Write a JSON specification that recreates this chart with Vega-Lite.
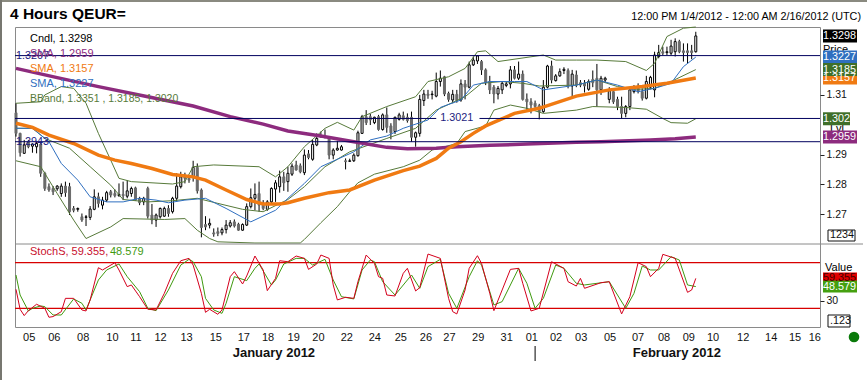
{"$schema":"https://vega.github.io/schema/vega-lite/v6.json","width":805,"height":300,"autosize":{"type":"none"},"padding":{"left":15,"top":27,"right":47,"bottom":55},"background":"#ffffff",
"config":{"font":"Liberation Sans","view":{"stroke":"#8a8a8a"},"text":{"font":"Liberation Sans"}},
"datasets":{
"days":[{"i":3.2,"d":"05"},{"i":9.3,"d":"06"},{"i":16.3,"d":"08"},{"i":23.4,"d":"10"},{"i":29.1,"d":"11"},{"i":35.1,"d":"12"},{"i":41.4,"d":"13"},{"i":48.5,"d":"15"},{"i":55.3,"d":"17"},{"i":61.2,"d":"18"},{"i":67.4,"d":"19"},{"i":73.4,"d":"20"},{"i":80.3,"d":"22"},{"i":87.1,"d":"24"},{"i":93.4,"d":"25"},{"i":99.5,"d":"26"},{"i":105.2,"d":"27"},{"i":112.2,"d":"29"},{"i":119.1,"d":"31"},{"i":125.2,"d":"01"},{"i":131.1,"d":"02"},{"i":137.2,"d":"03"},{"i":144.2,"d":"05"},{"i":151,"d":"07"},{"i":157.3,"d":"08"},{"i":163.3,"d":"09"},{"i":169.2,"d":"10"},{"i":176.5,"d":"12"},{"i":183.3,"d":"14"},{"i":189.1,"d":"15"},{"i":193.9,"d":"16"}],
"candles":[
{"i":0,"o":1.3040,"h":1.3072,"l":1.2960,"c":1.2971},{"i":1,"o":1.2971,"h":1.2973,"l":1.2893,"c":1.2906},{"i":2,"o":1.2904,"h":1.2949,"l":1.2902,"c":1.2932},{"i":3,"o":1.2943,"h":1.2949,"l":1.2921,"c":1.2926},{"i":4,"o":1.2928,"h":1.2937,"l":1.2906,"c":1.2935},{"i":5,"o":1.2926,"h":1.2943,"l":1.2904,"c":1.2937},{"i":6,"o":1.2935,"h":1.2943,"l":1.2825,"c":1.2837},{"i":7,"o":1.2837,"h":1.2842,"l":1.2778,"c":1.2786},{"i":8,"o":1.2792,"h":1.2803,"l":1.2775,"c":1.2781},{"i":9,"o":1.2786,"h":1.2794,"l":1.2764,"c":1.2775},
{"i":10,"o":1.2785,"h":1.2797,"l":1.2778,"c":1.2794},{"i":11,"o":1.2769,"h":1.2803,"l":1.2758,"c":1.2794},{"i":12,"o":1.2794,"h":1.2809,"l":1.2758,"c":1.2772},{"i":13,"o":1.2792,"h":1.2805,"l":1.2697,"c":1.2708},{"i":14,"o":1.2719,"h":1.2727,"l":1.2706,"c":1.2713},{"i":15,"o":1.2716,"h":1.2722,"l":1.2708,"c":1.2719},{"i":16,"o":1.2691,"h":1.2702,"l":1.2674,"c":1.2680},{"i":17,"o":1.2689,"h":1.2697,"l":1.2660,"c":1.2691},{"i":18,"o":1.2689,"h":1.2727,"l":1.2680,"c":1.2717},{"i":19,"o":1.2716,"h":1.2783,"l":1.2713,"c":1.2758},
{"i":20,"o":1.2758,"h":1.2772,"l":1.2722,"c":1.2736},{"i":21,"o":1.2730,"h":1.2758,"l":1.2716,"c":1.2747},{"i":22,"o":1.2747,"h":1.2778,"l":1.2741,"c":1.2772},{"i":23,"o":1.2775,"h":1.2781,"l":1.2756,"c":1.2764},{"i":24,"o":1.2769,"h":1.2783,"l":1.2756,"c":1.2762},{"i":25,"o":1.2762,"h":1.2803,"l":1.2758,"c":1.2766},{"i":26,"o":1.2766,"h":1.2809,"l":1.2747,"c":1.2762},{"i":27,"o":1.2760,"h":1.2814,"l":1.2753,"c":1.2778},{"i":28,"o":1.2769,"h":1.2792,"l":1.2758,"c":1.2786},{"i":29,"o":1.2788,"h":1.2792,"l":1.2745,"c":1.2747},
{"i":30,"o":1.2753,"h":1.2758,"l":1.2730,"c":1.2738},{"i":31,"o":1.2741,"h":1.2758,"l":1.2730,"c":1.2753},{"i":32,"o":1.2786,"h":1.2792,"l":1.2685,"c":1.2693},{"i":33,"o":1.2697,"h":1.2734,"l":1.2666,"c":1.2680},{"i":34,"o":1.2680,"h":1.2702,"l":1.2657,"c":1.2697},{"i":35,"o":1.2691,"h":1.2722,"l":1.2685,"c":1.2719},{"i":36,"o":1.2693,"h":1.2725,"l":1.2691,"c":1.2719},{"i":37,"o":1.2719,"h":1.2730,"l":1.2691,"c":1.2702},{"i":38,"o":1.2708,"h":1.2758,"l":1.2702,"c":1.2753},{"i":39,"o":1.2753,"h":1.2837,"l":1.2741,"c":1.2794},
{"i":40,"o":1.2792,"h":1.2842,"l":1.2786,"c":1.2825},{"i":41,"o":1.2828,"h":1.2839,"l":1.2803,"c":1.2820},{"i":42,"o":1.2820,"h":1.2831,"l":1.2805,"c":1.2814},{"i":43,"o":1.2825,"h":1.2879,"l":1.2809,"c":1.2857},{"i":44,"o":1.2857,"h":1.2870,"l":1.2769,"c":1.2778},{"i":45,"o":1.2781,"h":1.2786,"l":1.2622,"c":1.2655},{"i":46,"o":1.2665,"h":1.2693,"l":1.2646,"c":1.2657},{"i":47,"o":1.2663,"h":1.2685,"l":1.2652,"c":1.2669},{"i":48,"o":1.2637,"h":1.2652,"l":1.2624,"c":1.2633},{"i":49,"o":1.2641,"h":1.2655,"l":1.2626,"c":1.2635},
{"i":50,"o":1.2637,"h":1.2655,"l":1.2629,"c":1.2648},{"i":51,"o":1.2648,"h":1.2680,"l":1.2635,"c":1.2663},{"i":52,"o":1.2660,"h":1.2680,"l":1.2655,"c":1.2671},{"i":53,"o":1.2674,"h":1.2682,"l":1.2655,"c":1.2660},{"i":54,"o":1.2666,"h":1.2671,"l":1.2644,"c":1.2646},{"i":55,"o":1.2646,"h":1.2669,"l":1.2644,"c":1.2665},{"i":56,"o":1.2663,"h":1.2736,"l":1.2660,"c":1.2725},{"i":57,"o":1.2725,"h":1.2786,"l":1.2719,"c":1.2755},{"i":58,"o":1.2753,"h":1.2803,"l":1.2713,"c":1.2766},{"i":59,"o":1.2769,"h":1.2809,"l":1.2708,"c":1.2730},
{"i":60,"o":1.2734,"h":1.2747,"l":1.2713,"c":1.2719},{"i":61,"o":1.2716,"h":1.2747,"l":1.2711,"c":1.2741},{"i":62,"o":1.2741,"h":1.2790,"l":1.2736,"c":1.2786},{"i":63,"o":1.2784,"h":1.2814,"l":1.2741,"c":1.2805},{"i":64,"o":1.2792,"h":1.2846,"l":1.2772,"c":1.2825},{"i":65,"o":1.2825,"h":1.2842,"l":1.2778,"c":1.2805},{"i":66,"o":1.2809,"h":1.2859,"l":1.2775,"c":1.2837},{"i":67,"o":1.2834,"h":1.2870,"l":1.2828,"c":1.2861},{"i":68,"o":1.2865,"h":1.2879,"l":1.2846,"c":1.2848},{"i":69,"o":1.2862,"h":1.2870,"l":1.2837,"c":1.2842},
{"i":70,"o":1.2839,"h":1.2917,"l":1.2831,"c":1.2898},{"i":71,"o":1.2902,"h":1.2915,"l":1.2884,"c":1.2890},{"i":72,"o":1.2884,"h":1.2949,"l":1.2879,"c":1.2934},{"i":73,"o":1.2932,"h":1.2971,"l":1.2928,"c":1.2954},{"i":74,"o":1.2962,"h":1.2977,"l":1.2958,"c":1.2958},{"i":75,"o":1.2962,"h":1.2984,"l":1.2954,"c":1.2958},{"i":76,"o":1.2954,"h":1.2962,"l":1.2884,"c":1.2898},{"i":77,"o":1.2898,"h":1.2921,"l":1.2884,"c":1.2915},{"i":78,"o":1.2915,"h":1.2946,"l":1.2913,"c":1.2921},{"i":79,"o":1.2915,"h":1.2932,"l":1.2913,"c":1.2926},
{"i":80,"o":1.2879,"h":1.2887,"l":1.2850,"c":1.2876},{"i":81,"o":1.2877,"h":1.2886,"l":1.2875,"c":1.2879},{"i":82,"o":1.2879,"h":1.2904,"l":1.2875,"c":1.2898},{"i":83,"o":1.2896,"h":1.2980,"l":1.2893,"c":1.2973},{"i":84,"o":1.2971,"h":1.3033,"l":1.2969,"c":1.3027},{"i":85,"o":1.3027,"h":1.3049,"l":1.2999,"c":1.3007},{"i":86,"o":1.3027,"h":1.3036,"l":1.2999,"c":1.3016},{"i":87,"o":1.3007,"h":1.3027,"l":1.3002,"c":1.3025},{"i":88,"o":1.3027,"h":1.3033,"l":1.2980,"c":1.2984},{"i":89,"o":1.2984,"h":1.3038,"l":1.2980,"c":1.3033},
{"i":90,"o":1.3033,"h":1.3058,"l":1.2973,"c":1.2991},{"i":91,"o":1.2996,"h":1.3005,"l":1.2951,"c":1.2973},{"i":92,"o":1.2977,"h":1.3027,"l":1.2969,"c":1.3025},{"i":93,"o":1.3018,"h":1.3040,"l":1.3014,"c":1.3033},{"i":94,"o":1.3030,"h":1.3044,"l":1.3014,"c":1.3018},{"i":95,"o":1.3025,"h":1.3038,"l":1.3007,"c":1.3014},{"i":96,"o":1.3025,"h":1.3044,"l":1.2943,"c":1.2958},{"i":97,"o":1.2958,"h":1.2977,"l":1.2926,"c":1.2973},{"i":98,"o":1.2971,"h":1.3100,"l":1.2960,"c":1.3085},{"i":99,"o":1.3081,"h":1.3117,"l":1.3063,"c":1.3103},
{"i":100,"o":1.3103,"h":1.3117,"l":1.3087,"c":1.3098},{"i":101,"o":1.3101,"h":1.3114,"l":1.3085,"c":1.3103},{"i":102,"o":1.3096,"h":1.3175,"l":1.3092,"c":1.3145},{"i":103,"o":1.3145,"h":1.3182,"l":1.3128,"c":1.3156},{"i":104,"o":1.3161,"h":1.3164,"l":1.3096,"c":1.3103},{"i":105,"o":1.3105,"h":1.3111,"l":1.3077,"c":1.3085},{"i":106,"o":1.3083,"h":1.3117,"l":1.3072,"c":1.3102},{"i":107,"o":1.3102,"h":1.3117,"l":1.3074,"c":1.3081},{"i":108,"o":1.3083,"h":1.3152,"l":1.3077,"c":1.3137},{"i":109,"o":1.3137,"h":1.3150,"l":1.3085,"c":1.3126},
{"i":110,"o":1.3126,"h":1.3212,"l":1.3122,"c":1.3201},{"i":111,"o":1.3201,"h":1.3229,"l":1.3197,"c":1.3217},{"i":112,"o":1.3214,"h":1.3234,"l":1.3204,"c":1.3231},{"i":113,"o":1.3212,"h":1.3217,"l":1.3167,"c":1.3184},{"i":114,"o":1.3184,"h":1.3189,"l":1.3133,"c":1.3142},{"i":115,"o":1.3145,"h":1.3164,"l":1.3103,"c":1.3117},{"i":116,"o":1.3126,"h":1.3133,"l":1.3072,"c":1.3103},{"i":117,"o":1.3103,"h":1.3130,"l":1.3085,"c":1.3122},{"i":118,"o":1.3117,"h":1.3145,"l":1.3103,"c":1.3139},{"i":119,"o":1.3132,"h":1.3145,"l":1.3126,"c":1.3137},
{"i":120,"o":1.3137,"h":1.3197,"l":1.3122,"c":1.3184},{"i":121,"o":1.3184,"h":1.3197,"l":1.3152,"c":1.3156},{"i":122,"o":1.3156,"h":1.3212,"l":1.3150,"c":1.3170},{"i":123,"o":1.3170,"h":1.3182,"l":1.3081,"c":1.3085},{"i":124,"o":1.3086,"h":1.3105,"l":1.3049,"c":1.3077},{"i":125,"o":1.3077,"h":1.3089,"l":1.3038,"c":1.3066},{"i":126,"o":1.3072,"h":1.3081,"l":1.3052,"c":1.3061},{"i":127,"o":1.3064,"h":1.3070,"l":1.3018,"c":1.3044},{"i":128,"o":1.3044,"h":1.3150,"l":1.3040,"c":1.3126},{"i":129,"o":1.3126,"h":1.3201,"l":1.3122,"c":1.3197},
{"i":130,"o":1.3197,"h":1.3215,"l":1.3139,"c":1.3150},{"i":131,"o":1.3148,"h":1.3170,"l":1.3145,"c":1.3164},{"i":132,"o":1.3164,"h":1.3189,"l":1.3161,"c":1.3178},{"i":133,"o":1.3182,"h":1.3193,"l":1.3170,"c":1.3186},{"i":134,"o":1.3182,"h":1.3189,"l":1.3122,"c":1.3130},{"i":135,"o":1.3130,"h":1.3184,"l":1.3094,"c":1.3170},{"i":136,"o":1.3167,"h":1.3182,"l":1.3126,"c":1.3133},{"i":137,"o":1.3141,"h":1.3150,"l":1.3126,"c":1.3133},{"i":138,"o":1.3139,"h":1.3150,"l":1.3108,"c":1.3130},{"i":139,"o":1.3119,"h":1.3152,"l":1.3114,"c":1.3145},
{"i":140,"o":1.3152,"h":1.3182,"l":1.3126,"c":1.3141},{"i":141,"o":1.3156,"h":1.3204,"l":1.3061,"c":1.3117},{"i":142,"o":1.3117,"h":1.3164,"l":1.3100,"c":1.3156},{"i":143,"o":1.3150,"h":1.3161,"l":1.3141,"c":1.3156},{"i":144,"o":1.3085,"h":1.3126,"l":1.3072,"c":1.3114},{"i":145,"o":1.3111,"h":1.3119,"l":1.3070,"c":1.3077},{"i":146,"o":1.3085,"h":1.3094,"l":1.3049,"c":1.3061},{"i":147,"o":1.3061,"h":1.3094,"l":1.3021,"c":1.3038},{"i":148,"o":1.3038,"h":1.3066,"l":1.3025,"c":1.3061},{"i":149,"o":1.3061,"h":1.3126,"l":1.3049,"c":1.3117},
{"i":150,"o":1.3111,"h":1.3133,"l":1.3105,"c":1.3126},{"i":151,"o":1.3126,"h":1.3139,"l":1.3105,"c":1.3111},{"i":152,"o":1.3111,"h":1.3122,"l":1.3081,"c":1.3089},{"i":153,"o":1.3089,"h":1.3164,"l":1.3085,"c":1.3145},{"i":154,"o":1.3126,"h":1.3164,"l":1.3119,"c":1.3159},{"i":155,"o":1.3117,"h":1.3245,"l":1.3092,"c":1.3234},{"i":156,"o":1.3229,"h":1.3268,"l":1.3223,"c":1.3242},{"i":157,"o":1.3245,"h":1.3262,"l":1.3234,"c":1.3240},{"i":158,"o":1.3242,"h":1.3262,"l":1.3234,"c":1.3245},{"i":159,"o":1.3240,"h":1.3285,"l":1.3234,"c":1.3264},
{"i":160,"o":1.3245,"h":1.3290,"l":1.3229,"c":1.3279},{"i":161,"o":1.3279,"h":1.3285,"l":1.3240,"c":1.3245},{"i":162,"o":1.3248,"h":1.3273,"l":1.3212,"c":1.3242},{"i":163,"o":1.3248,"h":1.3273,"l":1.3206,"c":1.3242},{"i":164,"o":1.3248,"h":1.3268,"l":1.3220,"c":1.3242},{"i":165,"o":1.3245,"h":1.3312,"l":1.3242,"c":1.3298}],
"lines":[
{"s":"upper","i":0,"v":1.3072},{"s":"upper","i":6,"v":1.3077},{"s":"upper","i":7,"v":1.3100},{"s":"upper","i":11,"v":1.3128},{"s":"upper","i":14,"v":1.3122},{"s":"upper","i":17,"v":1.3072},{"s":"upper","i":20,"v":1.2971},{"s":"upper","i":23,"v":1.2881},{"s":"upper","i":25,"v":1.2820},{"s":"upper","i":28,"v":1.2809},{"s":"upper","i":38,"v":1.2801},{"s":"upper","i":41,"v":1.2809},{"s":"upper","i":43,"v":1.2859},{"s":"upper","i":48,"v":1.2865},{"s":"upper","i":59,"v":1.2859},{"s":"upper","i":63,"v":1.2825},{"s":"upper","i":66,"v":1.2859},{"s":"upper","i":70,"v":1.2926},{"s":"upper","i":75,"v":1.2988},{"s":"upper","i":78,"v":1.3008},{"s":"upper","i":82,"v":1.2982},{"s":"upper","i":84,"v":1.3027},{"s":"upper","i":90,"v":1.3061},{"s":"upper","i":97,"v":1.3094},{"s":"upper","i":100,"v":1.3145},{"s":"upper","i":105,"v":1.3161},{"s":"upper","i":109,"v":1.3189},{"s":"upper","i":112,"v":1.3245},{"s":"upper","i":114,"v":1.3248},{"s":"upper","i":117,"v":1.3212},{"s":"upper","i":128,"v":1.3234},{"s":"upper","i":131,"v":1.3217},{"s":"upper","i":136,"v":1.3217},{"s":"upper","i":141,"v":1.3217},{"s":"upper","i":148,"v":1.3212},{"s":"upper","i":153,"v":1.3182},{"s":"upper","i":155,"v":1.3206},{"s":"upper","i":158,"v":1.3296},{"s":"upper","i":162,"v":1.3324},{"s":"upper","i":165,"v":1.3351},
{"s":"lower","i":0,"v":1.2879},{"s":"lower","i":6,"v":1.2859},{"s":"lower","i":10,"v":1.2769},{"s":"lower","i":14,"v":1.2680},{"s":"lower","i":17,"v":1.2618},{"s":"lower","i":23,"v":1.2657},{"s":"lower","i":26,"v":1.2685},{"s":"lower","i":36,"v":1.2682},{"s":"lower","i":41,"v":1.2685},{"s":"lower","i":44,"v":1.2646},{"s":"lower","i":47,"v":1.2618},{"s":"lower","i":49,"v":1.2607},{"s":"lower","i":58,"v":1.2557},{"s":"lower","i":69,"v":1.2603},{"s":"lower","i":70,"v":1.2615},{"s":"lower","i":74,"v":1.2671},{"s":"lower","i":78,"v":1.2725},{"s":"lower","i":81,"v":1.2775},{"s":"lower","i":83,"v":1.2805},{"s":"lower","i":87,"v":1.2834},{"s":"lower","i":94,"v":1.2859},{"s":"lower","i":98,"v":1.2881},{"s":"lower","i":101,"v":1.2915},{"s":"lower","i":107,"v":1.2937},{"s":"lower","i":109,"v":1.2977},{"s":"lower","i":114,"v":1.2996},{"s":"lower","i":116,"v":1.3049},{"s":"lower","i":120,"v":1.3066},{"s":"lower","i":124,"v":1.3055},{"s":"lower","i":128,"v":1.3038},{"s":"lower","i":136,"v":1.3049},{"s":"lower","i":140,"v":1.3061},{"s":"lower","i":148,"v":1.3058},{"s":"lower","i":153,"v":1.3052},{"s":"lower","i":157,"v":1.3021},{"s":"lower","i":159,"v":1.3007},{"s":"lower","i":163,"v":1.3005},{"s":"lower","i":165,"v":1.3020},
{"s":"mid","i":0,"v":1.2988},{"s":"mid","i":4,"v":1.2988},{"s":"mid","i":7,"v":1.2954},{"s":"mid","i":13,"v":1.2921},{"s":"mid","i":18,"v":1.2859},{"s":"mid","i":23,"v":1.2797},{"s":"mid","i":26,"v":1.2749},{"s":"mid","i":32,"v":1.2741},{"s":"mid","i":38,"v":1.2745},{"s":"mid","i":44,"v":1.2753},{"s":"mid","i":49,"v":1.2736},{"s":"mid","i":55,"v":1.2716},{"s":"mid","i":60,"v":1.2708},{"s":"mid","i":66,"v":1.2749},{"s":"mid","i":70,"v":1.2792},{"s":"mid","i":75,"v":1.2859},{"s":"mid","i":81,"v":1.2909},{"s":"mid","i":90,"v":1.2954},{"s":"mid","i":97,"v":1.2988},{"s":"mid","i":102,"v":1.3049},{"s":"mid","i":109,"v":1.3094},{"s":"mid","i":113,"v":1.3139},{"s":"mid","i":118,"v":1.3145},{"s":"mid","i":123,"v":1.3139},{"s":"mid","i":127,"v":1.3130},{"s":"mid","i":136,"v":1.3133},{"s":"mid","i":141,"v":1.3150},{"s":"mid","i":146,"v":1.3128},{"s":"mid","i":151,"v":1.3119},{"s":"mid","i":155,"v":1.3122},{"s":"mid","i":159,"v":1.3145},{"s":"mid","i":165,"v":1.3185},
{"s":"blue","i":0,"v":1.2988},{"s":"blue","i":4,"v":1.2988},{"s":"blue","i":8,"v":1.2943},{"s":"blue","i":11,"v":1.2870},{"s":"blue","i":15,"v":1.2814},{"s":"blue","i":18,"v":1.2758},{"s":"blue","i":22,"v":1.2741},{"s":"blue","i":26,"v":1.2741},{"s":"blue","i":30,"v":1.2753},{"s":"blue","i":34,"v":1.2747},{"s":"blue","i":37,"v":1.2738},{"s":"blue","i":41,"v":1.2747},{"s":"blue","i":46,"v":1.2753},{"s":"blue","i":51,"v":1.2719},{"s":"blue","i":57,"v":1.2674},{"s":"blue","i":63,"v":1.2713},{"s":"blue","i":66,"v":1.2753},{"s":"blue","i":70,"v":1.2803},{"s":"blue","i":74,"v":1.2859},{"s":"blue","i":78,"v":1.2884},{"s":"blue","i":82,"v":1.2909},{"s":"blue","i":86,"v":1.2949},{"s":"blue","i":90,"v":1.2962},{"s":"blue","i":94,"v":1.2988},{"s":"blue","i":100,"v":1.3016},{"s":"blue","i":103,"v":1.3058},{"s":"blue","i":108,"v":1.3083},{"s":"blue","i":111,"v":1.3133},{"s":"blue","i":115,"v":1.3145},{"s":"blue","i":121,"v":1.3145},{"s":"blue","i":124,"v":1.3145},{"s":"blue","i":128,"v":1.3117},{"s":"blue","i":136,"v":1.3133},{"s":"blue","i":141,"v":1.3150},{"s":"blue","i":146,"v":1.3133},{"s":"blue","i":151,"v":1.3111},{"s":"blue","i":155,"v":1.3122},{"s":"blue","i":159,"v":1.3139},{"s":"blue","i":162,"v":1.3195},{"s":"blue","i":165,"v":1.3227},
{"s":"sma200","i":0,"v":1.3189},{"s":"sma200","i":10,"v":1.3158},{"s":"sma200","i":20,"v":1.3128},{"s":"sma200","i":32,"v":1.3094},{"s":"sma200","i":43,"v":1.3063},{"s":"sma200","i":52,"v":1.3027},{"s":"sma200","i":60,"v":1.3002},{"s":"sma200","i":66,"v":1.2979},{"s":"sma200","i":74,"v":1.2962},{"s":"sma200","i":82,"v":1.2943},{"s":"sma200","i":90,"v":1.2924},{"s":"sma200","i":95,"v":1.2919},{"s":"sma200","i":102,"v":1.2921},{"s":"sma200","i":107,"v":1.2926},{"s":"sma200","i":115,"v":1.2931},{"s":"sma200","i":124,"v":1.2935},{"s":"sma200","i":136,"v":1.2941},{"s":"sma200","i":142,"v":1.2943},{"s":"sma200","i":154,"v":1.2949},{"s":"sma200","i":160,"v":1.2953},{"s":"sma200","i":165,"v":1.2959},
{"s":"sma50","i":0,"v":1.3005},{"s":"sma50","i":4,"v":1.2991},{"s":"sma50","i":8,"v":1.2965},{"s":"sma50","i":14,"v":1.2937},{"s":"sma50","i":20,"v":1.2898},{"s":"sma50","i":24,"v":1.2881},{"s":"sma50","i":28,"v":1.2870},{"s":"sma50","i":33,"v":1.2853},{"s":"sma50","i":38,"v":1.2833},{"s":"sma50","i":43,"v":1.2825},{"s":"sma50","i":46,"v":1.2814},{"s":"sma50","i":51,"v":1.2781},{"s":"sma50","i":56,"v":1.2749},{"s":"sma50","i":60,"v":1.2734},{"s":"sma50","i":64,"v":1.2734},{"s":"sma50","i":66,"v":1.2738},{"s":"sma50","i":70,"v":1.2753},{"s":"sma50","i":76,"v":1.2772},{"s":"sma50","i":81,"v":1.2781},{"s":"sma50","i":87,"v":1.2814},{"s":"sma50","i":94,"v":1.2846},{"s":"sma50","i":98,"v":1.2861},{"s":"sma50","i":102,"v":1.2887},{"s":"sma50","i":105,"v":1.2921},{"s":"sma50","i":108,"v":1.2943},{"s":"sma50","i":111,"v":1.2971},{"s":"sma50","i":114,"v":1.2996},{"s":"sma50","i":121,"v":1.3038},{"s":"sma50","i":127,"v":1.3055},{"s":"sma50","i":136,"v":1.3096},{"s":"sma50","i":144,"v":1.3117},{"s":"sma50","i":152,"v":1.3128},{"s":"sma50","i":158,"v":1.3139},{"s":"sma50","i":165,"v":1.3157}],
"stoch":[
{"s":"d","i":0,"v":63.8},{"s":"d","i":1,"v":37.5},{"s":"d","i":3,"v":16.5},{"s":"d","i":4,"v":20},{"s":"d","i":6,"v":23.1},{"s":"d","i":7,"v":22.2},{"s":"d","i":9,"v":11.2},{"s":"d","i":11,"v":11.2},{"s":"d","i":14,"v":32.3},{"s":"d","i":16,"v":26.6},{"s":"d","i":17,"v":17.8},{"s":"d","i":18,"v":31},{"s":"d","i":20,"v":57.2},{"s":"d","i":22,"v":70.4},{"s":"d","i":25,"v":78.3},{"s":"d","i":27,"v":61.6},{"s":"d","i":30,"v":41.9},{"s":"d","i":32,"v":20},{"s":"d","i":34,"v":16.9},{"s":"d","i":37,"v":44.1},{"s":"d","i":40,"v":76.9},{"s":"d","i":42,"v":84.4},{"s":"d","i":43,"v":81.3},{"s":"d","i":45,"v":61.6},{"s":"d","i":46,"v":33.1},{"s":"d","i":48,"v":17.8},{"s":"d","i":50,"v":13.4},{"s":"d","i":51,"v":26.6},{"s":"d","i":53,"v":61.6},{"s":"d","i":56,"v":56.4},{"s":"d","i":58,"v":72.6},{"s":"d","i":59,"v":78.3},{"s":"d","i":62,"v":50.7},{"s":"d","i":63,"v":57.2},{"s":"d","i":65,"v":78.3},{"s":"d","i":68,"v":85.7},{"s":"d","i":70,"v":85.7},{"s":"d","i":72,"v":76.9},{"s":"d","i":75,"v":84.4},{"s":"d","i":77,"v":57.2},{"s":"d","i":79,"v":35.3},{"s":"d","i":82,"v":32.3},{"s":"d","i":84,"v":70.4},{"s":"d","i":86,"v":83.5},{"s":"d","i":87,"v":81.3},{"s":"d","i":89,"v":55},{"s":"d","i":92,"v":37.5},{"s":"d","i":96,"v":63.8},{"s":"d","i":98,"v":46.3},{"s":"d","i":100,"v":74.8},{"s":"d","i":103,"v":84.4},{"s":"d","i":105,"v":39.7},{"s":"d","i":107,"v":20},{"s":"d","i":110,"v":61.6},{"s":"d","i":112,"v":82.6},{"s":"d","i":113,"v":76.9},{"s":"d","i":116,"v":24.4},{"s":"d","i":118,"v":28.8},{"s":"d","i":122,"v":72.6},{"s":"d","i":124,"v":52.9},{"s":"d","i":126,"v":20},{"s":"d","i":128,"v":33.1},{"s":"d","i":131,"v":76.9},{"s":"d","i":133,"v":72.6},{"s":"d","i":136,"v":52.9},{"s":"d","i":138,"v":50.7},{"s":"d","i":144,"v":55},{"s":"d","i":148,"v":20},{"s":"d","i":150,"v":39.7},{"s":"d","i":152,"v":75.6},{"s":"d","i":154,"v":70.4},{"s":"d","i":156,"v":70.4},{"s":"d","i":159,"v":87.9},{"s":"d","i":161,"v":83.5},{"s":"d","i":163,"v":50.7},{"s":"d","i":165,"v":48.579},
{"s":"k","i":0,"v":45},{"s":"k","i":1,"v":18.7},{"s":"k","i":2,"v":10.4},{"s":"k","i":3,"v":16.9},{"s":"k","i":5,"v":25.3},{"s":"k","i":7,"v":20},{"s":"k","i":8,"v":8.2},{"s":"k","i":9,"v":9.1},{"s":"k","i":11,"v":15.6},{"s":"k","i":12,"v":33.1},{"s":"k","i":14,"v":33.1},{"s":"k","i":16,"v":17.8},{"s":"k","i":17,"v":16.5},{"s":"k","i":18,"v":31},{"s":"k","i":20,"v":73.4},{"s":"k","i":21,"v":70.4},{"s":"k","i":24,"v":80},{"s":"k","i":25,"v":70.4},{"s":"k","i":27,"v":48.5},{"s":"k","i":28,"v":50.7},{"s":"k","i":30,"v":35.3},{"s":"k","i":32,"v":18.7},{"s":"k","i":34,"v":17.8},{"s":"k","i":36,"v":39.7},{"s":"k","i":38,"v":66},{"s":"k","i":40,"v":82.6},{"s":"k","i":42,"v":85.7},{"s":"k","i":43,"v":76.9},{"s":"k","i":45,"v":39.7},{"s":"k","i":46,"v":14.7},{"s":"k","i":47,"v":18.7},{"s":"k","i":49,"v":12.1},{"s":"k","i":50,"v":17.8},{"s":"k","i":52,"v":61.6},{"s":"k","i":53,"v":68.2},{"s":"k","i":55,"v":52},{"s":"k","i":56,"v":62.5},{"s":"k","i":58,"v":88.8},{"s":"k","i":60,"v":70.4},{"s":"k","i":61,"v":43.2},{"s":"k","i":63,"v":59.4},{"s":"k","i":64,"v":82.6},{"s":"k","i":66,"v":81.3},{"s":"k","i":68,"v":88.8},{"s":"k","i":70,"v":85.7},{"s":"k","i":71,"v":71.2},{"s":"k","i":73,"v":78.3},{"s":"k","i":74,"v":90.1},{"s":"k","i":76,"v":85.7},{"s":"k","i":77,"v":50.7},{"s":"k","i":78,"v":31},{"s":"k","i":80,"v":34.5},{"s":"k","i":82,"v":33.1},{"s":"k","i":83,"v":55},{"s":"k","i":85,"v":90.1},{"s":"k","i":87,"v":79.1},{"s":"k","i":88,"v":61.6},{"s":"k","i":89,"v":59.4},{"s":"k","i":90,"v":37.5},{"s":"k","i":92,"v":36.2},{"s":"k","i":94,"v":66},{"s":"k","i":95,"v":72.6},{"s":"k","i":97,"v":42.8},{"s":"k","i":98,"v":47.2},{"s":"k","i":100,"v":91.4},{"s":"k","i":103,"v":85.7},{"s":"k","i":105,"v":33.1},{"s":"k","i":106,"v":15.6},{"s":"k","i":107,"v":12.6},{"s":"k","i":109,"v":44.1},{"s":"k","i":110,"v":72.6},{"s":"k","i":112,"v":89.2},{"s":"k","i":113,"v":79.1},{"s":"k","i":115,"v":39.7},{"s":"k","i":116,"v":16.9},{"s":"k","i":118,"v":44.1},{"s":"k","i":120,"v":71.2},{"s":"k","i":122,"v":72.6},{"s":"k","i":123,"v":52.9},{"s":"k","i":125,"v":16.5},{"s":"k","i":127,"v":20},{"s":"k","i":130,"v":81.3},{"s":"k","i":133,"v":72.6},{"s":"k","i":134,"v":55},{"s":"k","i":136,"v":49.3},{"s":"k","i":137,"v":59.4},{"s":"k","i":138,"v":46.3},{"s":"k","i":142,"v":53.7},{"s":"k","i":144,"v":55},{"s":"k","i":147,"v":12.6},{"s":"k","i":149,"v":35.3},{"s":"k","i":151,"v":80},{"s":"k","i":153,"v":74.8},{"s":"k","i":154,"v":61.6},{"s":"k","i":156,"v":72.6},{"s":"k","i":157,"v":91},{"s":"k","i":160,"v":85.7},{"s":"k","i":163,"v":41},{"s":"k","i":164,"v":44.1},{"s":"k","i":165,"v":59.355}]
},
"layer":[
{"layer":[
{"data":{"name":"candles"},"mark":{"type":"rule","color":"#000","strokeWidth":1},"encoding":{"x":{"field":"i","type":"quantitative","axis":null,"scale":{"domain":[-0.24,195.15],"nice":false,"zero":false,"padding":0}},"y":{"field":"h","type":"quantitative","title":null,"scale":{"domain":[1.2603,1.3328],"range":[216,0],"nice":false,"zero":false,"clamp":true},"axis":{"title":null,"orient":"right","values":[1.27,1.28,1.29,1.31],"format":".2f","grid":false,"domain":false,"tickSize":4,"tickColor":"#222","labelFontSize":10.5,"labelColor":"#111","labelPadding":2}},"y2":{"field":"l"}}},
{"data":{"name":"candles"},"mark":{"type":"bar","size":2,"strokeWidth":1},"encoding":{"x":{"field":"i","type":"quantitative","axis":null},"y":{"field":"o","type":"quantitative","title":null},"y2":{"field":"c"},"fill":{"condition":{"test":"datum.c>=datum.o","value":"#ffffff"},"value":"#6a6a6a"},"stroke":{"condition":{"test":"datum.c>=datum.o","value":"#000000"},"value":"#6a6a6a"}}},
{"data":{"name":"lines"},"transform":[{"filter":"datum.s!='sma200'&&datum.s!='sma50'"}],"mark":{"type":"line","strokeWidth":1},"encoding":{"x":{"field":"i","type":"quantitative","axis":null},"y":{"field":"v","type":"quantitative","title":null},"color":{"field":"s","type":"nominal","legend":null,"scale":{"domain":["upper","lower","mid","blue","sma200","sma50"],"range":["#577a3a","#577a3a","#577a3a","#2f6fc0","#8d2b7e","#f07a12"]}}}},
{"data":{"name":"lines"},"transform":[{"filter":"datum.s=='sma200'||datum.s=='sma50'"}],"mark":{"type":"line","strokeWidth":3.5},"encoding":{"x":{"field":"i","type":"quantitative","axis":null},"y":{"field":"v","type":"quantitative","title":null},"color":{"field":"s","type":"nominal","legend":null}}},
{"data":{"values":[{"level":1.3232,"from":-0.24,"to":195.15},{"level":1.3021,"from":-0.24,"to":102},{"level":1.3021,"from":112.5,"to":195.15},{"level":1.2943,"from":-0.24,"to":195.15}]},"mark":{"type":"rule","color":"#00005e","strokeWidth":1},"encoding":{"x":{"field":"from","type":"quantitative","axis":null},"x2":{"field":"to"},"y":{"field":"level","type":"quantitative","title":null}}},
{"data":{"values":[{"level":1.3232,"at":0,"t":"1.3207"},{"level":1.3021,"at":103,"t":"1.3021"},{"level":1.2943,"at":0,"t":"1.2943"}]},"mark":{"type":"text","align":"left","baseline":"middle","fontSize":10.8,"color":"#1c1c80"},"encoding":{"x":{"field":"at","type":"quantitative","axis":null},"y":{"field":"level","type":"quantitative","title":null},"text":{"field":"t"}}},
{"data":{"values":[{"t":"4 Hours QEUR="}]},"mark":{"type":"text","align":"left","baseline":"middle","fontSize":15.5,"fontWeight":"bold","color":"#000","x":-5,"y":-13},"encoding":{"text":{"field":"t"}}},
{"data":{"values":[{"t":"Cndl, 1.3298"}]},"mark":{"type":"text","align":"left","baseline":"middle","fontSize":11,"color":"#000","x":15,"y":12},"encoding":{"text":{"field":"t"}}},
{"data":{"values":[{"t":"SMA, 1.2959"}]},"mark":{"type":"text","align":"left","baseline":"middle","fontSize":11,"color":"#8d2b7e","x":15,"y":27},"encoding":{"text":{"field":"t"}}},
{"data":{"values":[{"t":"SMA, 1.3157"}]},"mark":{"type":"text","align":"left","baseline":"middle","fontSize":11,"color":"#f07a12","x":15,"y":42},"encoding":{"text":{"field":"t"}}},
{"data":{"values":[{"t":"SMA, 1.3227"}]},"mark":{"type":"text","align":"left","baseline":"middle","fontSize":11,"color":"#2f6fc0","x":15,"y":57},"encoding":{"text":{"field":"t"}}},
{"data":{"values":[{"t":"BBand, 1.3351 , 1.3185, 1.3020"}]},"mark":{"type":"text","align":"left","baseline":"middle","fontSize":10.5,"color":"#577a3a","x":15,"y":72},"encoding":{"text":{"field":"t"}}},
{"data":{"values":[{"t":"12:00 PM 1/4/2012 - 12:00 AM 2/16/2012 (UTC)"}]},"mark":{"type":"text","align":"right","baseline":"middle","fontSize":10.8,"color":"#000","x":846,"y":-10},"encoding":{"text":{"field":"t"}}},
{"data":{"values":[{"t":"Price"}]},"mark":{"type":"text","align":"left","baseline":"middle","fontSize":11,"color":"#000","x":808,"y":23},"encoding":{"text":{"field":"t"}}},
{"data":{"values":[{"t":"Lvl"}]},"mark":{"type":"text","align":"left","baseline":"middle","fontSize":11,"color":"#000","x":815,"y":102},"encoding":{"text":{"field":"t"}}},
{"data":{"values":[{"key":"cndl","v":1.3298},{"key":"sma50","v":1.3157},{"key":"blue","v":1.3227},{"key":"mid","v":1.3185},{"key":"sma200","v":1.2959}]},"mark":{"type":"rule","strokeWidth":13},"encoding":{"x":{"value":808},"x2":{"value":842},"y":{"field":"v","type":"quantitative","title":null},"stroke":{"field":"key","type":"nominal","legend":null,"scale":{"domain":["cndl","sma50","blue","mid","sma200"],"range":["#000000","#f07a12","#2f6fc0","#3f6f2a","#8d2b7e"]}}}},
{"data":{"values":[{"v":1.302}]},"mark":{"type":"rule","strokeWidth":13,"color":"#3f6f2a"},"encoding":{"x":{"value":808},"x2":{"value":835},"y":{"field":"v","type":"quantitative","title":null}}},
{"data":{"values":[{"label":"1.3298","v":1.3298},{"label":"1.3157","v":1.3157},{"label":"1.3227","v":1.3227},{"label":"1.3185","v":1.3185},{"label":"1.302","v":1.302},{"label":"1.2959","v":1.2959}]},"mark":{"type":"text","align":"left","baseline":"middle","fontSize":10.8,"color":"#fff","x":808},"encoding":{"y":{"field":"v","type":"quantitative","title":null},"text":{"field":"label"}}}
]},
{"layer":[
{"data":{"values":[{"v":80},{"v":20}]},"mark":{"type":"rule","color":"#d80000","strokeWidth":1.3},"encoding":{"y":{"field":"v","type":"quantitative","title":null,"scale":{"domain":[-4.6,104.6],"range":[300,217],"nice":false,"zero":false},"axis":{"title":null,"orient":"right","values":[30],"grid":false,"domain":false,"tickSize":4,"tickColor":"#222","labelFontSize":10.5,"labelColor":"#111","labelPadding":2}}}},
{"data":{"name":"stoch"},"mark":{"type":"line","strokeWidth":1},"encoding":{"x":{"field":"i","type":"quantitative","axis":null},"y":{"field":"v","type":"quantitative","title":null},"color":{"field":"s","type":"nominal","legend":null,"scale":{"domain":["d","k"],"range":["#3f9a10","#d4001c"]}}}},
{"data":{"values":[{"t":"StochS, 59.355,"}]},"mark":{"type":"text","align":"left","baseline":"middle","fontSize":11,"color":"#c8102e","x":15,"y":225},"encoding":{"text":{"field":"t"}}},
{"data":{"values":[{"t":"48.579"}]},"mark":{"type":"text","align":"left","baseline":"middle","fontSize":11,"color":"#3f9a10","x":95,"y":225},"encoding":{"text":{"field":"t"}}},
{"data":{"values":[{"t":"Value"}]},"mark":{"type":"text","align":"left","baseline":"middle","fontSize":11,"color":"#000","x":810,"y":241},"encoding":{"text":{"field":"t"}}},
{"data":{"values":[{"label":"59.355","v":59.355},{"label":"48.579","v":48.579}]},"mark":{"type":"rule","strokeWidth":12},"encoding":{"x":{"value":808},"x2":{"value":842},"y":{"field":"v","type":"quantitative","title":null},"stroke":{"field":"label","type":"nominal","legend":null,"scale":{"domain":["59.355","48.579"],"range":["#e00000","#45a010"]}}}},
{"data":{"values":[{"label":"59.355","v":59.355},{"label":"48.579","v":48.579}]},"mark":{"type":"text","align":"left","baseline":"middle","fontSize":10.8,"x":808},"encoding":{"y":{"field":"v","type":"quantitative","title":null},"text":{"field":"label"},"fill":{"field":"label","type":"nominal","legend":null,"scale":{"domain":["59.355","48.579"],"range":["#440000","#ffffff"]}}}},
{"data":{"values":[{"k":"box1"}]},"mark":{"type":"rect","fill":"#fff","stroke":"#111","strokeWidth":1},"encoding":{"x":{"value":813},"x2":{"value":840},"y":{"value":203},"y2":{"value":214}}},
{"data":{"values":[{"t":"1234"}]},"mark":{"type":"text","align":"left","baseline":"middle","fontSize":10.8,"color":"#111","x":815,"y":208},"encoding":{"text":{"field":"t"}}},
{"data":{"values":[{"k":"box2"}]},"mark":{"type":"rect","fill":"#fff","stroke":"#111","strokeWidth":1},"encoding":{"x":{"value":813},"x2":{"value":835},"y":{"value":288},"y2":{"value":300}}},
{"data":{"values":[{"t":".123"}]},"mark":{"type":"text","align":"left","baseline":"middle","fontSize":10.8,"color":"#111","x":815,"y":294},"encoding":{"text":{"field":"t"}}},
{"data":{"values":[{"k":"sep"}]},"mark":{"type":"rule","color":"#8a8a8a","strokeWidth":1},"encoding":{"x":{"value":0},"x2":{"value":848},"y":{"value":217}}},
{"data":{"name":"days"},"mark":{"type":"text","align":"center","baseline":"middle","fontSize":11,"color":"#111"},"encoding":{"x":{"field":"i","type":"quantitative","axis":null},"y":{"value":311},"text":{"field":"d"}}},
{"data":{"values":[{"t":"January 2012","at":62.6},{"t":"February 2012","at":160.4}]},"mark":{"type":"text","align":"center","baseline":"middle","fontSize":13,"fontWeight":"bold","color":"#111"},"encoding":{"x":{"field":"at","type":"quantitative","axis":null},"y":{"value":326},"text":{"field":"t"}}},
{"data":{"values":[{"at":126}]},"mark":{"type":"rule","color":"#000","strokeWidth":1},"encoding":{"x":{"field":"at","type":"quantitative","axis":null},"y":{"value":319},"y2":{"value":334}}},
{"data":{"values":[{"k":"status"}]},"mark":{"type":"point","filled":true,"size":113,"color":"#0a7a0a","opacity":1},"encoding":{"x":{"value":839},"y":{"value":310}}},
{"data":{"values":[{"k":"frameTop"}]},"mark":{"type":"rule","color":"#8a8a80","strokeWidth":2},"encoding":{"x":{"value":-15},"x2":{"value":852},"y":{"value":-26}}},
{"data":{"values":[{"k":"frameLeft"}]},"mark":{"type":"rule","color":"#777770","strokeWidth":2},"encoding":{"x":{"value":-14},"y":{"value":-27},"y2":{"value":353}}}
]}
],
"resolve":{"scale":{"y":"independent","color":"independent","stroke":"independent","fill":"independent"},"axis":{"y":"independent"}}}
